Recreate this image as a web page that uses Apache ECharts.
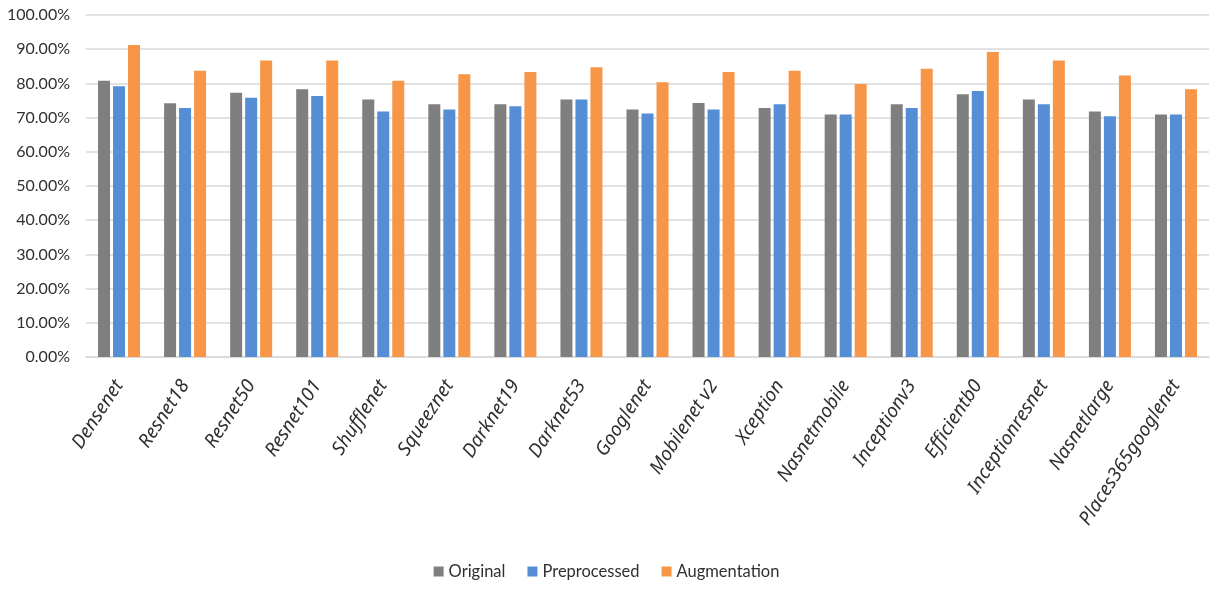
<!DOCTYPE html>
<html>
<head>
<meta charset="utf-8">
<script src="https://cdn.jsdelivr.net/npm/echarts@6/dist/echarts.min.js"></script>
<style>html,body{margin:0;padding:0;background:#fff}#c{width:1213px;height:589px}</style>
</head>
<body>
<div id="c"></div>
<script>
const categories = ['Densenet','Resnet18','Resnet50','Resnet101','Shufflenet','Squeeznet','Darknet19','Darknet53','Googlenet','Mobilenet v2','Xception','Nasnetmobile','Inceptionv3','Efficientb0','Inceptionresnet','Nasnetlarge','Places365googlenet'];
const original =     [80.8,74.2,77.3,78.3,75.3,73.9,73.9,75.3,72.4,74.3,72.8,70.9,73.9,76.8,75.3,71.8,70.9];
const preprocessed = [79.2,72.8,75.8,76.3,71.8,72.4,73.3,75.3,71.2,72.4,73.9,70.9,72.8,77.8,73.9,70.4,70.9];
const augmentation = [91.2,83.7,86.7,86.7,80.8,82.7,83.3,84.7,80.3,83.3,83.7,79.8,84.3,89.2,86.7,82.3,78.3];
const seriesNames = ['Original','Preprocessed','Augmentation'];
const colors = ['#7f7f7f','#558ed5','#f79646'];
const FONT = "Lato,'Noto Sans',sans-serif";
const XFONT = "'Noto Sans',sans-serif";

const chart = echarts.init(document.getElementById('c'));
const dataSets = [original, preprocessed, augmentation];
chart.setOption({
  animation: false,
  color: colors,
  grid: {left: 86, right: 4, top: 15, bottom: 232, containLabel: false},
  legend: {
    bottom: 4, left: 'center', itemWidth: 10, itemHeight: 10, itemGap: 22,
    icon: 'rect',
    textStyle: {fontFamily: FONT, fontSize: 16.5, color: '#303030'},
    data: seriesNames
  },
  xAxis: {
    type: 'category', data: categories,
    axisLine: {lineStyle: {color: '#d9d9d9', width: 1.5}},
    axisTick: {show: false},
    axisLabel: {rotate: 57, interval: 0, margin: 25, verticalAlign: 'middle', fontFamily: XFONT, fontStyle: 'italic', fontSize: 19, color: '#303030'}
  },
  yAxis: {
    type: 'value', min: 0, max: 100, interval: 10,
    axisLine: {show: false}, axisTick: {show: false},
    splitLine: {lineStyle: {color: '#d9d9d9', width: 1.5}},
    axisLabel: {formatter: v => v.toFixed(2) + '%', fontFamily: FONT, fontSize: 16, color: '#303030', margin: 16}
  },
  series: seriesNames.map((n, i) => ({
    name: n, type: 'bar', data: dataSets[i], barWidth: 12, barGap: '25%',
    itemStyle: {color: colors[i]}
  }))
});
</script>
</body>
</html>
